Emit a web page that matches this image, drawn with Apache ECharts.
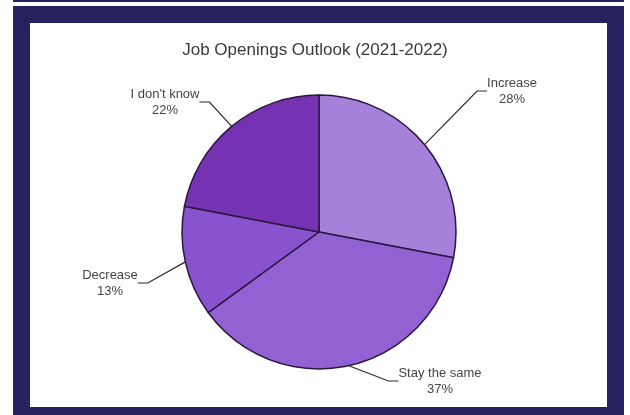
<!DOCTYPE html>
<html>
<head>
<meta charset="utf-8">
<title>Job Openings Outlook (2021-2022)</title>
<script src="https://cdn.jsdelivr.net/npm/echarts@6/dist/echarts.min.js"></script>
<style>
  html, body { margin: 0; padding: 0; background: #ffffff; }
  #chart { width: 630px; height: 415px; }
</style>
</head>
<body>
<div id="chart"></div>
<script>
// Survey answers and their shares (percent)
const categories = ['Increase', 'Stay the same', 'Decrease', "I don't know"];
const shares = [28, 37, 13, 22];
const sliceColors = ['#a681d9', '#9262d3', '#8853cd', '#7533b3'];

// Where each callout label sits (centre of its two lines)
const labelSpots = [
  { x: 512, y: 91 },
  { x: 440, y: 381 },
  { x: 110, y: 283 },
  { x: 165, y: 102 }
];

const navy = '#27215f';
const chart = echarts.init(document.getElementById('chart'), null, { renderer: 'canvas' });

chart.setOption({
  backgroundColor: '#ffffff',
  animation: false,
  graphic: [
    // thin rule along the top edge
    { type: 'rect', z: 0, shape: { x: 13, y: 0, width: 611, height: 2 }, style: { fill: navy } },
    // navy frame
    { type: 'rect', z: 0, shape: { x: 13, y: 6, width: 611, height: 409 }, style: { fill: navy } },
    // white panel
    { type: 'rect', z: 1, shape: { x: 30, y: 23, width: 577, height: 384 }, style: { fill: '#ffffff' } }
  ],
  title: {
    text: 'Job Openings Outlook (2021-2022)',
    left: 'center',
    top: 37,
    textStyle: {
      fontFamily: 'Liberation Sans',
      fontSize: 17,
      fontWeight: 'normal',
      color: '#3a3a3a'
    }
  },
  series: [{
    type: 'pie',
    z: 3,
    center: [319, 232],
    radius: 137,
    startAngle: 90,
    clockwise: true,
    avoidLabelOverlap: false,
    data: categories.map((name, i) => ({
      name: name,
      value: shares[i],
      itemStyle: { color: sliceColors[i] }
    })),
    itemStyle: { borderColor: '#2a1743', borderWidth: 1.5 },
    label: {
      show: true,
      position: 'outside',
      formatter: '{b}\n{c}%',
      fontFamily: 'Liberation Sans',
      fontSize: 13,
      lineHeight: 16,
      color: '#454545',
      align: 'center'
    },
    labelLine: {
      show: true,
      length: 20,
      length2: 10,
      lineStyle: { color: '#2b2b2b', width: 1.2 }
    },
    labelLayout: function (params) {
      const spot = labelSpots[params.dataIndex];
      return { x: spot.x, y: spot.y, align: 'center', verticalAlign: 'middle' };
    },
    emphasis: { disabled: true }
  }]
});
</script>
</body>
</html>
